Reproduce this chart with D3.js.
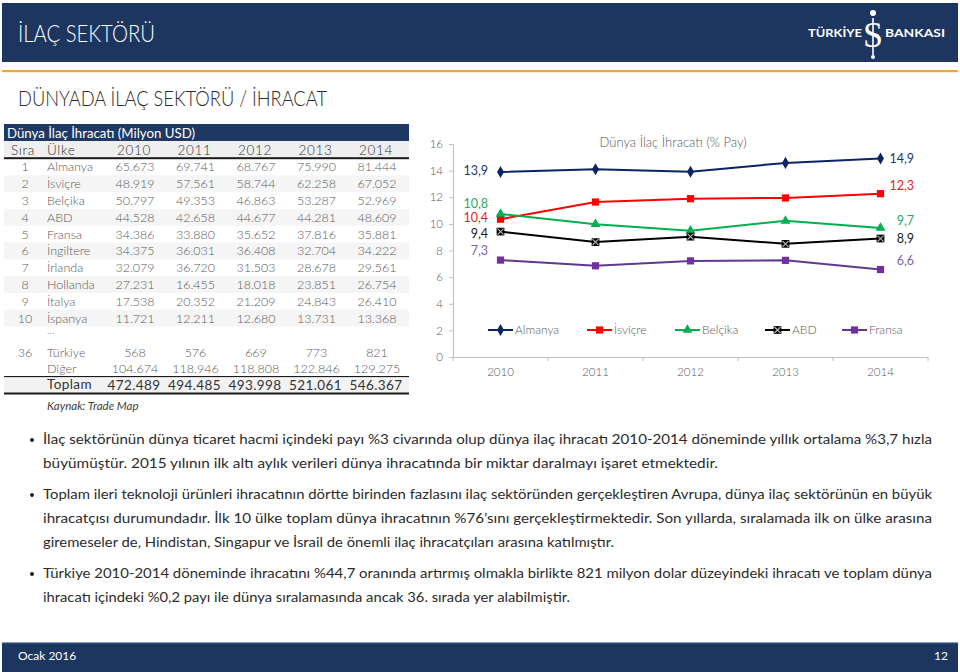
<!DOCTYPE html>
<html><head><meta charset="utf-8">
<script src="https://cdn.jsdelivr.net/npm/d3@7"></script>
<style>
html,body{margin:0;padding:0;background:#fff;}
svg{display:block;font-family:Lato,"Open Sans",sans-serif;}
</style></head>
<body><svg id="c" width="960" height="672"></svg>
<script>
// ---------- data ----------
const years = ["2010","2011","2012","2013","2014"];
const ranks = ["1","2","3","4","5","6","7","8","9","10"];
const countries = ["Almanya","İsviçre","Belçika","ABD","Fransa","İngiltere","İrlanda","Hollanda","İtalya","İspanya"];
const exp2010 = [65673,48919,50797,44528,34386,34375,32079,27231,17538,11721];
const exp2011 = [69741,57561,49353,42658,33880,36031,36720,16455,20352,12211];
const exp2012 = [68767,58744,46863,44677,35652,36408,31503,18018,21209,12680];
const exp2013 = [75990,62258,53287,44281,37816,32704,28678,23851,24843,13731];
const exp2014 = [81444,67052,52969,48609,35881,34222,29561,26754,26410,13368];
const turkiyeRank = "36";
const turkiye = [568,576,669,773,821];
const diger = [104674,118946,118808,122846,129275];
const toplam = [472489,494485,493998,521061,546367];

const seriesNames = ["Almanya","İsviçre","Belçika","ABD","Fransa"];
const shareAlmanya = [13.90,14.10,13.92,14.58,14.91];
const shareIsvicre = [10.353,11.64,11.89,11.95,12.27];
const shareBelcika = [10.75,9.98,9.49,10.23,9.69];
const shareABD = [9.42,8.63,9.04,8.50,8.90];
const shareFransa = [7.28,6.85,7.22,7.26,6.57];
const yTicks = [0,2,4,6,8,10,12,14,16];

const paragraphs = [
  ["İlaç sektörünün dünya ticaret hacmi içindeki payı %3 civarında olup dünya ilaç ihracatı 2010-2014 döneminde yıllık ortalama %3,7 hızla",
   "büyümüştür. 2015 yılının ilk altı aylık verileri dünya ihracatında bir miktar daralmayı işaret etmektedir."],
  ["Toplam ileri teknoloji ürünleri ihracatının dörtte birinden fazlasını ilaç sektöründen gerçekleştiren Avrupa, dünya ilaç sektörünün en büyük",
   "ihracatçısı durumundadır. İlk 10 ülke toplam dünya ihracatının %76’sını gerçekleştirmektedir. Son yıllarda, sıralamada ilk on ülke arasına",
   "giremeseler de, Hindistan, Singapur ve İsrail de önemli ilaç ihracatçıları arasına katılmıştır."],
  ["Türkiye 2010-2014 döneminde ihracatını %44,7 oranında artırmış olmakla birlikte 821 milyon dolar düzeyindeki ihracatı ve toplam dünya",
   "ihracatı içindeki %0,2 payı ile dünya sıralamasında ancak 36. sırada yer alabilmiştir."]
];

// ---------- setup ----------
const svg = d3.select("#c");
const NAVY = "#1c3660";
const trLocale = d3.formatLocale({decimal: ",", thousands: ".", grouping: [3], currency: ["", " TL"]});
const fmtInt = trLocale.format(",d");
const fmt1 = trLocale.format(".1f");

svg.append("rect").attr("width",960).attr("height",672).attr("fill","#fff");

// ---------- header ----------
svg.append("rect").attr("x",2).attr("y",3).attr("width",956).attr("height",59).attr("fill",NAVY);
svg.append("text").attr("x",18).attr("y",42).attr("fill","#fff").attr("font-size",23).attr("font-weight",300)
  .attr("textLength",137).attr("lengthAdjust","spacingAndGlyphs").text("İLAÇ SEKTÖRÜ");
svg.append("text").attr("x",808).attr("y",37).attr("fill","#fff").attr("font-size",11).attr("font-weight",700)
  .attr("textLength",54).attr("lengthAdjust","spacingAndGlyphs").text("TÜRKİYE");
svg.append("text").attr("x",885).attr("y",37).attr("fill","#fff").attr("font-size",11).attr("font-weight",700)
  .attr("textLength",60).attr("lengthAdjust","spacingAndGlyphs").text("BANKASI");
const logo = svg.append("g").attr("fill","#fff").attr("stroke","#fff");
logo.append("circle").attr("cx",873).attr("cy",13).attr("r",3).attr("stroke","none");
logo.append("line").attr("x1",873).attr("x2",873).attr("y1",18).attr("y2",55).attr("stroke-width",1.6);
logo.append("text").attr("x",873).attr("y",47).attr("text-anchor","middle").attr("stroke","none")
  .attr("font-family","'Liberation Serif',serif").attr("font-size",36).text("S");
logo.append("circle").attr("cx",873).attr("cy",57).attr("r",2).attr("stroke","none");

svg.append("rect").attr("x",2).attr("y",70).attr("width",956).attr("height",2.2).attr("fill","#f2a33a");
svg.append("text").attr("x",18).attr("y",106).attr("fill","#2b2b2b").attr("font-size",21).attr("font-weight",300)
  .attr("textLength",309).attr("lengthAdjust","spacingAndGlyphs").text("DÜNYADA İLAÇ SEKTÖRÜ / İHRACAT");

// ---------- table ----------
const tbl = svg.append("g");
const colX = d3.scalePoint().domain(years).range([135,377]);
const rowY = d3.scaleBand().domain(ranks).range([158.5, 158.5 + 10*16.8]);
const cellColor = "#5a5a5a";

tbl.append("rect").attr("x",4).attr("y",124).attr("width",405).attr("height",17).attr("fill","#1f3864");
tbl.append("text").attr("x",7).attr("y",137.5).attr("fill","#fff").attr("font-size",13.5)
  .attr("textLength",188).attr("lengthAdjust","spacingAndGlyphs").text("Dünya İlaç İhracatı (Milyon USD)");
tbl.append("rect").attr("x",4).attr("y",141).attr("width",405).attr("height",17).attr("fill","#efefef");
// striped rows
tbl.selectAll("rect.band").data(ranks.filter((r,i)=>i%2===1)).join("rect").attr("class","band")
  .attr("x",4).attr("width",405).attr("y",d=>rowY(d)).attr("height",rowY.bandwidth()).attr("fill","#f5f5f5");
tbl.append("rect").attr("x",4).attr("y",376).attr("width",405).attr("height",17).attr("fill","#f2f2f2");

const hdr = tbl.append("g").attr("font-size",13.5).attr("font-weight",300).attr("fill","#333").attr("letter-spacing",0.7);
hdr.append("text").attr("x",23).attr("y",154.5).attr("text-anchor","middle").text("Sıra");
hdr.append("text").attr("x",47).attr("y",154.5).text("Ülke");
hdr.selectAll("text.yr").data(years).join("text").attr("class","yr")
  .attr("x",d=>colX(d)-1).attr("y",154.5).attr("text-anchor","middle").text(d=>d);
tbl.append("rect").attr("x",4).attr("y",157.2).attr("width",405).attr("height",2).attr("fill","#1a1a1a");

const yearCols = [exp2010,exp2011,exp2012,exp2013,exp2014];
const body = tbl.append("g").attr("font-size",12.5).attr("font-weight",300).attr("fill",cellColor);
ranks.forEach((r,i)=>{
  const yc = rowY(r) + rowY.bandwidth()/2 + 4.5;
  body.append("text").attr("x",25).attr("y",yc).attr("text-anchor","middle").text(r);
  body.append("text").attr("x",47).attr("y",yc).text(countries[i]);
  years.forEach((yr,j)=>{
    body.append("text").attr("x",colX(yr)).attr("y",yc).attr("text-anchor","middle").text(fmtInt(yearCols[j][i]));
  });
});
body.append("text").attr("x",47).attr("y",334).attr("font-size",10).text("…");
[[turkiyeRank,"Türkiye",turkiye,352],["","Diğer",diger,368.5]].forEach(([rk,nm,vals,yc])=>{
  body.append("text").attr("x",25).attr("y",yc+4.5).attr("text-anchor","middle").text(rk);
  body.append("text").attr("x",47).attr("y",yc+4.5).text(nm);
  years.forEach((yr,j)=>body.append("text").attr("x",colX(yr)).attr("y",yc+4.5).attr("text-anchor","middle").text(fmtInt(vals[j])));
});
tbl.append("rect").attr("x",4).attr("y",376).attr("width",405).attr("height",1.1).attr("fill","#1a1a1a");
const tot = tbl.append("g").attr("font-size",13.5).attr("fill","#333").attr("letter-spacing",0.4);
tot.append("text").attr("x",47).attr("y",388.5).text("Toplam");
tot.selectAll("text.tv").data(years).join("text").attr("class","tv")
  .attr("x",d=>colX(d)-1).attr("y",389.5).attr("text-anchor","middle").text((d,j)=>fmtInt(toplam[j]));
tbl.append("rect").attr("x",4).attr("y",392.5).attr("width",405).attr("height",2).attr("fill","#1a1a1a");
tbl.append("text").attr("x",47).attr("y",410).attr("font-size",11.5).attr("font-style","italic")
  .attr("fill","#404040").text("Kaynak: Trade Map");

// ---------- chart ----------
const ch = svg.append("g");
const x = d3.scaleBand().domain(years).range([453,928]);
const y = d3.scaleLinear().domain([0,16]).range([357,144]);
const cx = d => x(d) + x.bandwidth()/2;

const yAx = ch.append("g").attr("transform","translate(453,0)")
  .call(d3.axisLeft(y).tickValues(yTicks).tickSize(4).tickSizeOuter(0).tickPadding(6));
yAx.select(".domain").attr("stroke","#bfbfbf");
yAx.selectAll(".tick line").attr("stroke","#bfbfbf");
yAx.selectAll(".tick text").attr("fill","#595959").attr("font-size",11.5).attr("font-weight",300).attr("font-family","Lato,sans-serif");

const xAx = ch.append("g").attr("transform","translate(0,357)")
  .call(d3.axisBottom(x).tickSize(0).tickSizeOuter(0).tickPadding(11));
xAx.select(".domain").attr("stroke","#bfbfbf");
xAx.selectAll(".tick text").attr("fill","#595959").attr("font-size",11.5).attr("font-weight",300).attr("font-family","Lato,sans-serif");
const bounds = years.map(d=>x(d)).concat([x.range()[1]]);
ch.selectAll("line.xt").data(bounds).join("line").attr("class","xt")
  .attr("x1",d=>d).attr("x2",d=>d).attr("y1",357).attr("y2",361).attr("stroke","#bfbfbf");

ch.append("text").attr("x",673).attr("y",147).attr("text-anchor","middle").attr("fill","#595959")
  .attr("font-size",13.5).attr("font-weight",300).attr("textLength",147).attr("lengthAdjust","spacingAndGlyphs").text("Dünya İlaç İhracatı (% Pay)");

const series = [
  {name:seriesNames[0], vals:shareAlmanya, line:"#0b2466", mark:"#0b2466", lab:"#1f3864", sym:"diamond", l:-1, r:0},
  {name:seriesNames[1], vals:shareIsvicre, line:"#ff0000", mark:"#ff0000", lab:"#e0261c", sym:"square", l:-1, r:-8},
  {name:seriesNames[2], vals:shareBelcika, line:"#00b050", mark:"#00b050", lab:"#31a35e", sym:"triangle", l:-10, r:-7},
  {name:seriesNames[3], vals:shareABD, line:"#000000", mark:"#000000", lab:"#1a1a1a", sym:"xsquare", l:2, r:0},
  {name:seriesNames[4], vals:shareFransa, line:"#5e3a8e", mark:"#7030a0", lab:"#8064a2", sym:"square", l:-9, r:-9}
];
const symGen = {
  diamond: d3.symbol(d3.symbolDiamond, 42),
  square: d3.symbol(d3.symbolSquare, 52),
  triangle: d3.symbol(d3.symbolTriangle, 42),
  xsquare: d3.symbol(d3.symbolSquare, 60)
};
function marker(g, s, px, py){
  g.append("path").attr("d", symGen[s.sym]()).attr("transform",`translate(${px},${py})`).attr("fill",s.mark);
  if(s.sym==="xsquare"){
    g.append("path").attr("d",`M${px-3},${py-3}L${px+3},${py+3}M${px-3},${py+3}L${px+3},${py-3}`)
      .attr("stroke","#bbbbbb").attr("stroke-width",1.1);
  }
}
const lineGen = d3.line().x((v,i)=>cx(years[i])).y(v=>y(v));
series.forEach(s=>{
  const g = ch.append("g");
  g.append("path").attr("d",lineGen(s.vals)).attr("fill","none").attr("stroke",s.line).attr("stroke-width",2);
  s.vals.forEach((v,i)=>marker(g,s,cx(years[i]),y(v)));
  g.append("text").attr("x",488).attr("y",y(s.vals[0])+s.l+4.3).attr("text-anchor","end")
    .attr("fill",s.lab).attr("font-size",12.5).text(fmt1(s.vals[0]));
  g.append("text").attr("x",914).attr("y",y(s.vals[4])+s.r+4.3).attr("text-anchor","end")
    .attr("fill",s.lab).attr("font-size",12.5).text(fmt1(s.vals[4]));
});

// legend
const legX = [488,587,675,765,842];
series.forEach((s,i)=>{
  const g = ch.append("g");
  const ly = 330;
  g.append("line").attr("x1",legX[i]).attr("x2",legX[i]+25).attr("y1",ly).attr("y2",ly).attr("stroke",s.line).attr("stroke-width",2);
  marker(g,s,legX[i]+12.5,ly);
  g.append("text").attr("x",legX[i]+27).attr("y",ly+4).attr("fill","#595959").attr("font-size",12).attr("font-weight",300).text(s.name);
});

// ---------- paragraphs ----------
const pText = svg.append("g").attr("font-size",14).attr("fill","#2b2b2b");
const baselines = [[444,468],[499,523,547],[578,602]];
const widths = [[889,675],[889,889,571],[889,527]];
paragraphs.forEach((p,pi)=>{
  pText.append("circle").attr("cx",32).attr("cy",baselines[pi][0]-4).attr("r",2).attr("fill","#222");
  p.forEach((ln,li)=>{
    pText.append("text").attr("x",43).attr("y",baselines[pi][li])
      .attr("textLength",widths[pi][li]).attr("lengthAdjust","spacingAndGlyphs").text(ln);
  });
});

// ---------- footer ----------
svg.append("rect").attr("x",2).attr("y",643).attr("width",956).attr("height",29).attr("fill",NAVY);
svg.append("rect").attr("x",2).attr("y",642).attr("width",956).attr("height",1.2).attr("fill","#7f9cc3");
svg.append("text").attr("x",18).attr("y",660).attr("fill","#fff").attr("font-size",12).text("Ocak 2016");
svg.append("text").attr("x",948).attr("y",660).attr("fill","#fff").attr("font-size",12).attr("text-anchor","end").text("12");
</script>
</body></html>
